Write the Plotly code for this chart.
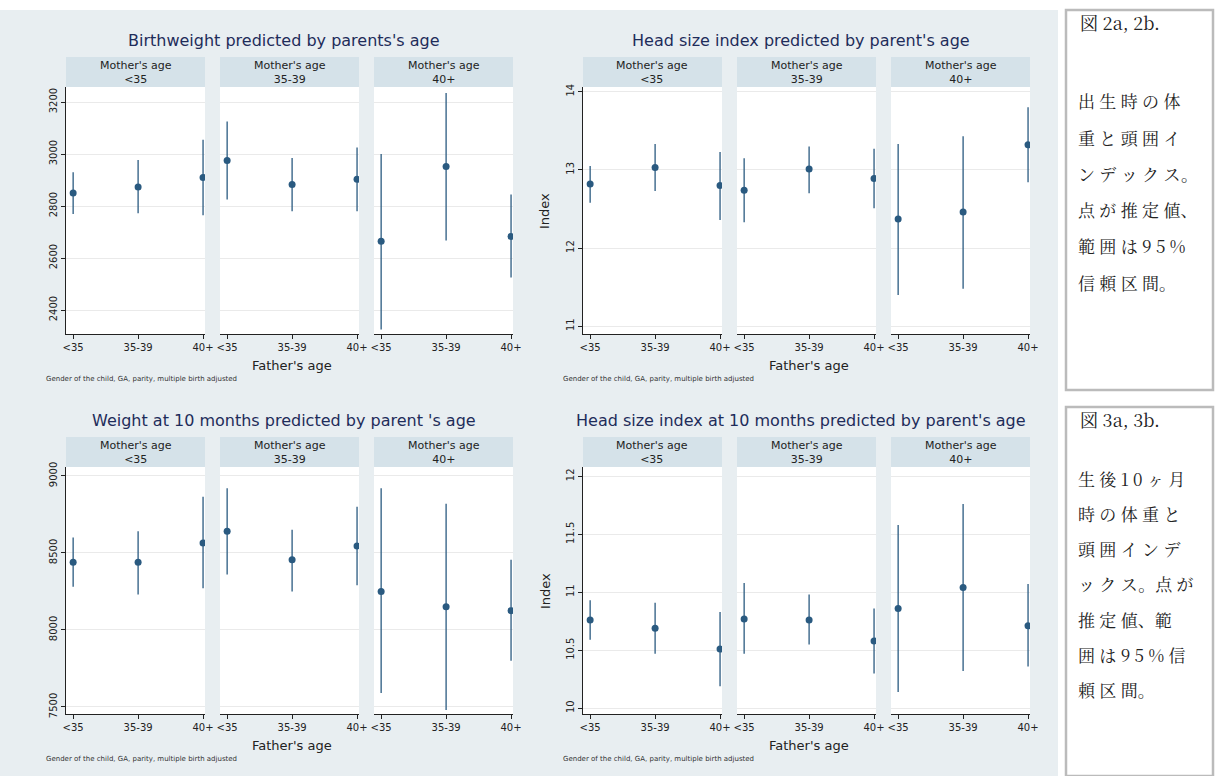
import plotly.graph_objects as go

W, H = 1215, 776
father_ages = ["<35", "35-39", "40+"]
mother_ages = ["<35", "35-39", "40+"]

# estimates, lower, upper per mother's age group (rows) and father's age (cols)
bw_est = [[2850, 2873, 2910], [2975, 2883, 2903], [2665, 2952, 2683]]
bw_lo = [[2770, 2772, 2765], [2825, 2780, 2780], [2325, 2668, 2525]]
bw_hi = [[2930, 2977, 3055], [3125, 2985, 3025], [3000, 3235, 2845]]

hs_est = [[12.82, 13.03, 12.80], [12.74, 13.01, 12.89], [12.37, 12.46, 13.32]]
hs_lo = [[12.58, 12.73, 12.36], [12.33, 12.70, 12.51], [11.40, 11.48, 12.84]]
hs_hi = [[13.05, 13.33, 13.23], [13.15, 13.30, 13.27], [13.33, 13.43, 13.80]]

w10_est = [[8440, 8440, 8565], [8640, 8455, 8545], [8250, 8150, 8125]]
w10_lo = [[8280, 8230, 8270], [8360, 8250, 8290], [7590, 7480, 7800]]
w10_hi = [[8600, 8640, 8865], [8920, 8650, 8800], [8920, 8820, 8455]]

h10_est = [[10.76, 10.69, 10.51], [10.77, 10.76, 10.58], [10.86, 11.04, 10.71]]
h10_lo = [[10.59, 10.47, 10.19], [10.47, 10.55, 10.30], [10.14, 10.32, 10.36]]
h10_hi = [[10.93, 10.91, 10.83], [11.08, 10.98, 10.86], [11.58, 11.76, 11.07]]

caption_2 = ["出 生 時 の 体", "重 と 頭 囲 イ", "ン デ ッ ク ス。", "点 が 推 定 値、", "範 囲 は 9 5 %", "信 頼 区 間。"]
caption_3 = ["生 後 1 0 ヶ 月", "時 の 体 重 と", "頭 囲 イ ン デ", "ッ ク ス。点 が", "推 定 値、範", "囲 は 9 5 % 信", "頼 区 間。"]

charts = [
    dict(title="Birthweight predicted by parents's age", est=bw_est, lo=bw_lo, hi=bw_hi,
         x0=66, top=57, yr=[2308, 3258], ticks=[2400, 2600, 2800, 3000, 3200], ytitle=""),
    dict(title="Head size index predicted by parent's age", est=hs_est, lo=hs_lo, hi=hs_hi,
         x0=583, top=57, yr=[10.9, 14.06], ticks=[11, 12, 13, 14], ytitle="Index"),
    dict(title="Weight at 10 months predicted by parent 's age", est=w10_est, lo=w10_lo, hi=w10_hi,
         x0=66, top=437, yr=[7454, 9058], ticks=[7500, 8000, 8500, 9000], ytitle=""),
    dict(title="Head size index at 10 months predicted by parent's age", est=h10_est, lo=h10_lo, hi=h10_hi,
         x0=583, top=437, yr=[9.95, 12.08], ticks=[10, 10.5, 11, 11.5, 12], ytitle="Index"),
]

COL = "#2a5a80"
BG = "#e8eef1"
STRIP = "#d5e2e9"

def px(x):
    return x / W

def py(y):
    return 1 - y / H

fig = go.Figure()
shapes = [dict(type="rect", xref="paper", yref="paper", x0=0, x1=px(1058), y0=0, y1=py(10),
               fillcolor=BG, line_width=0, layer="below")]
annotations = []
layout = {}
n = 0
pw, gap = 139, 15
for c in charts:
    ctop = c["top"]
    annotations.append(dict(text=c["title"], x=px(c["x0"] + 218), y=py(ctop - 17), xref="paper", yref="paper",
                            xanchor="center", showarrow=False, font=dict(size=16, color="#1e2c5a"),
                            yanchor="middle"))
    annotations.append(dict(text="Father's age", x=px(c["x0"] + 226), y=py(ctop + 308), xref="paper", yref="paper",
                            xanchor="center", showarrow=False, font=dict(size=13, color="#222"),
                            yanchor="middle"))
    annotations.append(dict(text="Gender of the child, GA, parity, multiple birth adjusted", x=px(c["x0"] - 22),
                            y=py(ctop + 322), xref="paper", yref="paper", xanchor="left", showarrow=False,
                            font=dict(size=7, color="#333"), yanchor="middle"))
    if c["ytitle"]:
        annotations.append(dict(text=c["ytitle"], x=px(c["x0"] - 38), y=py(ctop + 154), xref="paper", yref="paper",
                                xanchor="center", yanchor="middle", showarrow=False, textangle=-90,
                                font=dict(size=13, color="#222")))
    for m in range(3):
        n += 1
        xa = "xaxis" if n == 1 else f"xaxis{n}"
        ya = "yaxis" if n == 1 else f"yaxis{n}"
        xr = "x" if n == 1 else f"x{n}"
        yr = "y" if n == 1 else f"y{n}"
        l = c["x0"] + m * (pw + gap)
        dom_x = [px(l), px(l + pw)]
        dom_y = [py(ctop + 277), py(ctop + 30)]
        shapes.append(dict(type="rect", xref="paper", yref="paper", x0=dom_x[0], x1=dom_x[1],
                           y0=py(ctop + 30), y1=py(ctop), fillcolor=STRIP, line_width=0))
        shapes.append(dict(type="rect", xref="paper", yref="paper", x0=dom_x[0], x1=dom_x[1],
                           y0=dom_y[0], y1=dom_y[1], fillcolor="white", line_width=0, layer="below"))
        annotations.append(dict(text="Mother's age<br>" + mother_ages[m], x=(dom_x[0] + dom_x[1]) / 2,
                                y=py(ctop + 15), xref="paper", yref="paper", showarrow=False,
                                xanchor="center", align="center",
                                font=dict(size=11, color="#222"), yanchor="middle"))
        layout[xa] = dict(domain=dom_x, anchor=yr, range=[-0.11, 2.03], tickvals=[0, 1, 2],
                          ticktext=father_ages, showline=True, linecolor="#222", ticks="outside",
                          ticklen=4, tickcolor="#222", showgrid=False, zeroline=False, automargin=False,
                          tickfont=dict(size=10, color="#222"))
        layout[ya] = dict(domain=dom_y, anchor=xr, range=c["yr"], tickvals=c["ticks"],
                          showline=(m == 0), linecolor="#222", ticks="outside" if m == 0 else "",
                          ticklen=4, tickcolor="#222", showticklabels=(m == 0), tickangle=-90,
                          gridcolor="#eaeaea", zeroline=False, automargin=False,
                          tickfont=dict(size=10, color="#222"))
        est, lo, hi = c["est"][m], c["lo"][m], c["hi"][m]
        fig.add_trace(go.Scatter(
            x=[0, 1, 2], y=est, xaxis=xr, yaxis=yr, mode="markers",
            marker=dict(color=COL, size=7),
            error_y=dict(type="data", symmetric=False,
                         array=[h - e for h, e in zip(hi, est)],
                         arrayminus=[e - lo_ for e, lo_ in zip(est, lo)],
                         color=COL, thickness=1.3, width=0),
            showlegend=False, hoverinfo="skip"))

# side caption boxes
CJK = "Noto Serif CJK JP, Noto Sans CJK JP"
for (t0, t1, head, lines, first, step) in [(10, 390, "図 2a, 2b.", caption_2, 101, 36.2),
                                           (407, 776, "図 3a, 3b.", caption_3, 478, 35.3)]:
    shapes.append(dict(type="rect", xref="paper", yref="paper", x0=px(1066), x1=px(1213),
                       y0=py(t1), y1=py(t0), line=dict(color="#bbbbbb", width=2.5), fillcolor="white"))
    annotations.append(dict(text=head, x=px(1078), y=py(t0 + 12), xref="paper", yref="paper",
                            xanchor="left", yanchor="middle", showarrow=False,
                            font=dict(size=18, color="#222", family=CJK)))
    for i, line in enumerate(lines):
        annotations.append(dict(text=line, x=px(1076), y=py(first + step * i), xref="paper", yref="paper",
                                xanchor="left", yanchor="middle", showarrow=False,
                                font=dict(size=17, color="#222", family=CJK)))

fig.update_layout(width=W, height=H, margin=dict(l=0, r=0, t=0, b=0),
                  paper_bgcolor="white", plot_bgcolor="rgba(0,0,0,0)",
                  font=dict(family="DejaVu Sans"), shapes=shapes, annotations=annotations, **layout)
fig.write_html("out.html", config={"displayModeBar": False},
               post_script="document.body.style.margin='0';")
